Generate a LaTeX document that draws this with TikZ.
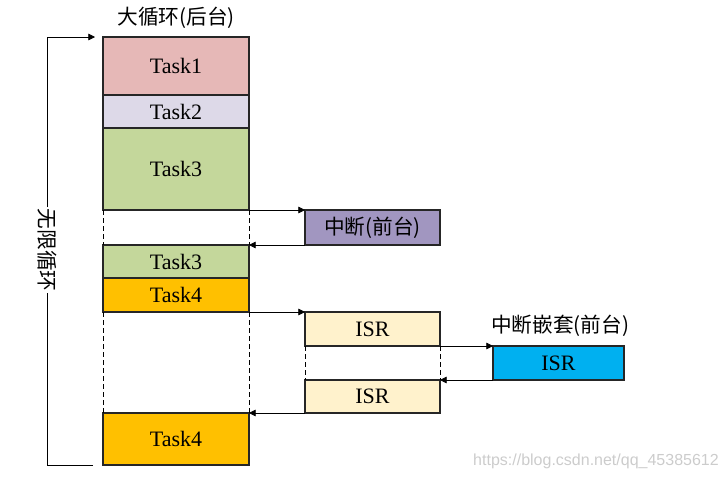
\documentclass[tikz,border=0pt]{standalone}
\usepackage{fontspec}
\setmainfont{Liberation Serif}
\newfontfamily\cjk{Noto Sans CJK SC}
\newfontfamily\wmfont{Liberation Sans}
\usetikzlibrary{arrows.meta,positioning}

\begin{document}
\begin{tikzpicture}[
        x=0.75pt, y=-0.75pt,
        task/.style={draw=black!85, line width=0.9pt, inner sep=0pt, outer sep=0pt,
            minimum width=109.5pt, font=\fontsize{16.5}{19}\selectfont},
        isr/.style={task, minimum width=101.25pt},
        flow/.style={line width=0.6pt, -{Triangle[length=5pt,width=5pt]}},
        gap/.style={line width=0.6pt, dash pattern=on 3.5pt off 2.5pt},
        caption/.style={font=\cjk\fontsize{15.5}{18}\selectfont},
    ]
        \useasboundingbox (0,0) rectangle (727,479);

        % Background loop (main column)
        \node[caption] (title) at (176,18) {大循环(后台)};
        \node[task, fill={rgb,255:red,230;green,184;blue,183}, minimum height=43.5pt] (t1) at (176,66) {Task1};
        \node[task, fill={rgb,255:red,221;green,217;blue,232}, minimum height=24.75pt] (t2) at (176,111.5) {Task2};
        \node[task, fill={rgb,255:red,196;green,215;blue,155}, minimum height=61.5pt] (t3) at (176,169) {Task3};
        \node[task, fill={rgb,255:red,196;green,215;blue,155}, minimum height=24.75pt] (t3b) at (176,261.5) {Task3};
        \node[task, fill={rgb,255:red,255;green,192;blue,0}, minimum height=25.5pt] (t4) at (176,295) {Task4};
        \node[task, fill={rgb,255:red,255;green,192;blue,0}, minimum height=39pt] (t4b) at (176,439) {Task4};

        % Foreground interrupts
        \node[isr, fill={rgb,255:red,161;green,150;blue,192}, minimum height=26.25pt, font=\cjk\fontsize{15.5}{18}\selectfont] (int) at (372.5,227.5) {中断(前台)};
        \node[isr, fill={rgb,255:red,255;green,242;blue,204}, minimum height=25.5pt] (isr1) at (372.5,329) {ISR};
        \node[isr, fill={rgb,255:red,255;green,242;blue,204}, minimum height=24.75pt] (isr2) at (372.5,396.5) {ISR};

        % Nested interrupt
        \node[caption] (nestcap) at (560,326) {中断嵌套(前台)};
        \node[task, minimum width=98.25pt, fill={rgb,255:red,0;green,176;blue,240}, minimum height=25.5pt] (nest) at (558.5,363) {ISR};

        % Dashed gaps
        \foreach \a/\b in {t3/t3b, t4/t4b, isr1/isr2} {
            \draw[gap] (\a.south west) -- (\b.north west);
            \draw[gap] (\a.south east) -- (\b.north east);
        }

        % Jumps in and out
        \draw[flow] (t3.south east) -- (int.north west);
        \draw[flow] (int.south west) -- (t3b.north east);
        \draw[flow] (t4.south east) -- (isr1.north west);
        \draw[flow] (isr2.south west) -- (t4b.north east);
        \draw[flow] (isr1.south east) -- (nest.north west);
        \draw[flow] (nest.south west) -- (isr2.north east);

        % Endless loop
        \node[caption, rotate=-90, inner sep=1pt] (loop) at (47,250) {无限循环};
        \coordinate (loopend) at ([xshift=-7.5pt]t4b.south west);
        \coordinate (loopstart) at ([xshift=-6pt]t1.north west);
        \draw[line width=0.6pt] (loopend) -| (loop.east);
        \draw[flow] (loop.west) |- (loopstart);

        % Watermark
        \node[font=\wmfont\fontsize{12}{14}\selectfont, text=gray!40] (mark) at (596,461) {https://blog.csdn.net/qq\_45385612};
    \end{tikzpicture}
\end{document}
